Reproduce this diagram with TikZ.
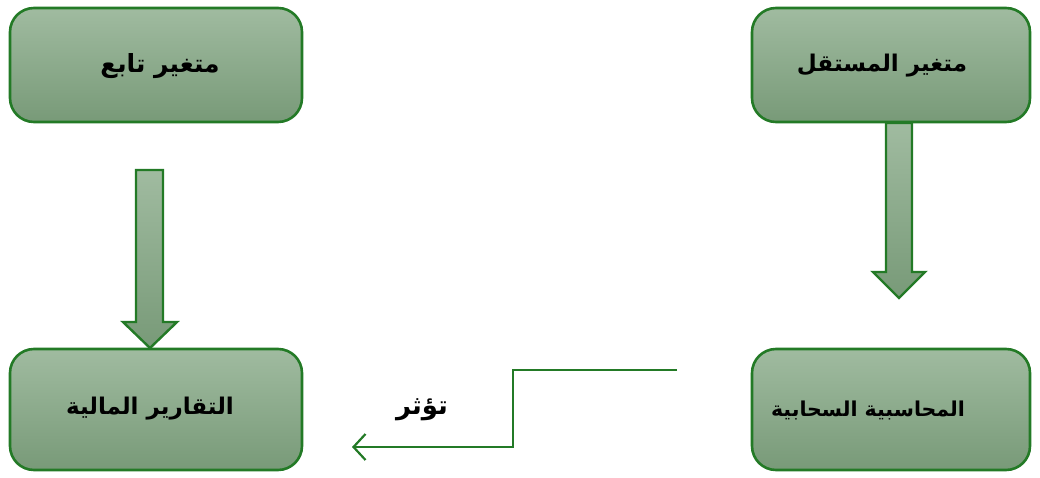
\documentclass[tikz,border=0pt]{standalone}
\usepackage{fontspec}
\newfontfamily\arabicfont[Script=Arabic]{DejaVu Sans}
\TeXXeTstate=1
\usetikzlibrary{arrows.meta}
\definecolor{edgegreen}{HTML}{237A26}
\definecolor{filltop}{HTML}{A0BBA0}
\definecolor{fillbot}{HTML}{789A78}
\tikzset{
  box/.style={draw=edgegreen, line width=2.6pt, rounded corners=24pt,
    top color=filltop, bottom color=fillbot, inner sep=0pt},
  blockarrow/.style={draw=edgegreen, line width=2.4pt, line join=miter,
    top color=filltop, bottom color=fillbot},
  label/.style={font=\arabicfont\bfseries\fontsize{23}{28}\selectfont, text=black},
  link/.style={draw=edgegreen, line width=2.2pt, -{Straight Barb[length=12pt,width=26pt,line width=2.2pt]}}
}
\begin{document}
\begin{tikzpicture}[x=1pt,y=-1pt]
\useasboundingbox (0,0) rectangle (1040,478);
% four boxes
\node[box, minimum width=292pt, minimum height=114pt] (dep) at (156,65) {};
\node[box, minimum width=278pt, minimum height=114pt] (ind) at (891,65) {};
\node[box, minimum width=292pt, minimum height=121pt] (fin) at (156,409.5) {};
\node[box, minimum width=278pt, minimum height=121pt] (cloud) at (891,409.5) {};
% box texts
\node[label, font=\arabicfont\bfseries\fontsize{25}{30}\selectfont] (tdep) at (160,66) {\beginR متغير تابع\endR};
\node[label] (tind) at (882,66) {\beginR متغير المستقل\endR};
\node[label] (tfin) at (150,409) {\beginR التقارير المالية\endR};
\node[label, font=\arabicfont\bfseries\fontsize{20.5}{25}\selectfont] (tcloud) at (868,410) {\beginR المحاسبية السحابية\endR};
% block arrows
\path[blockarrow] (136,170) -- (163,170) -- (163,322) -- (177,322) -- (150,348)
  -- (123,322) -- (136,322) -- cycle;
\path[blockarrow] (886,123) -- (912,123) -- (912,272) -- (925,272) -- (899,298)
  -- (873,272) -- (886,272) -- cycle;
% influence connector
\coordinate (ls) at (677,370);
\coordinate (le) at (352,447);
\draw[link] (ls) -- (513,370) -- (513,447) -- (le);
\node[label, font=\arabicfont\bfseries\fontsize{26}{30}\selectfont] (tinf) at (422,410) {\beginR تؤثر\endR};
\end{tikzpicture}
\end{document}
